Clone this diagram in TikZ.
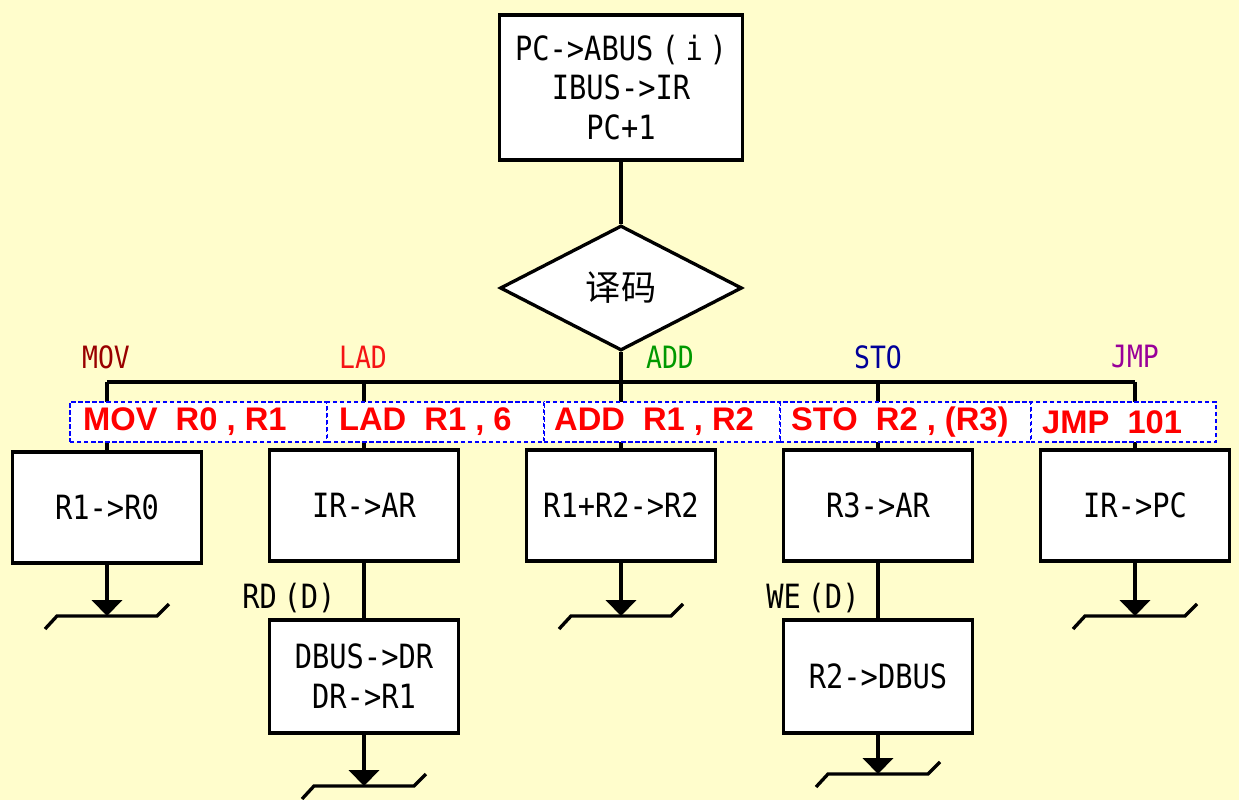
\documentclass[tikz,border=0pt]{standalone}
\usepackage{fontspec}
\setmainfont{Liberation Sans}
\newfontfamily\gothic[FakeStretch=0.86]{DejaVu Sans Mono}
\newfontfamily\cjkfont{Noto Sans CJK SC}
\newcommand\gbfont{\gothic\fontsize{19}{22.7}\selectfont}
\newcommand\gopfont{\gothic\fontsize{17.5}{20}\selectfont}
\usetikzlibrary{shapes.geometric,arrows.meta}
\definecolor{bg}{RGB}{255,253,204}
\definecolor{movc}{RGB}{153,0,0}
\definecolor{ladc}{RGB}{245,20,20}
\definecolor{addc}{RGB}{0,153,0}
\definecolor{stoc}{RGB}{0,0,153}
\definecolor{jmpc}{RGB}{153,0,153}
\tikzset{
  box/.style={draw, fill=white, line width=1.9pt, font=\gbfont, align=center, inner sep=0pt},
  bw/.style={minimum width=3.78cm, minimum height=2.22cm},
  dia/.style={draw, fill=white, diamond, minimum width=4.84cm, minimum height=2.5cm, inner sep=0pt, line width=1.9pt, font=\cjkfont\fontsize{20}{24}\selectfont},
  op/.style={font=\gopfont, inner sep=0pt},
  cmd/.style={draw=blue, dash pattern=on 2.5pt off 1.5pt, line width=0.6pt, fill=white, minimum height=0.8cm, inner sep=0pt},
  cmdtext/.style={text=red, font=\bfseries\fontsize{18.6}{20}\selectfont, anchor=west, inner sep=0pt},
  garr/.style={-{Triangle[width=17pt,length=9pt]}},
  gnd/.pic={\draw[line width=1.9pt] (-62,13) -- (-50,0) -- (50,0) -- (62,-12);}
}
\begin{document}
\begin{tikzpicture}[x=0.02cm,y=-0.02cm, line width=1.9pt]
\fill[bg] (0,0) rectangle (1239,800);
\useasboundingbox (0,0) rectangle (1239,800);

% main nodes
\node[box, minimum width=4.86cm, minimum height=2.9cm] (fetch) at (621,87.5)
  {PC->ABUS\hspace{.25em}(\hspace{.2em}i\hspace{.2em})\\IBUS->IR\\PC+1};
\node[dia] (dec) at (621,288) {译码};

\node[box, bw] (mov) at (107,507.5) {R1->R0};
\node[box, bw] (lad) at (364,505.5) {IR->AR};
\node[box, bw] (add) at (621,505.5) {R1+R2->R2};
\node[box, bw] (sto) at (878,505.5) {R3->AR};
\node[box, bw] (jmp) at (1135,505.5) {IR->PC};
\node[box, bw, minimum height=2.26cm] (lad2) at (364,676.5) {DBUS->DR\\DR->R1};
\node[box, bw, minimum height=2.26cm] (sto2) at (878,676.5) {R2->DBUS};

% bus and connectors
\coordinate (bl) at (107,382);
\coordinate (br) at (1135,382);
\draw (bl) -- (br);
\draw (fetch) -- (dec);
\draw (dec) -- (add);
\draw (bl) -- (mov);
\draw (lad.north |- bl) -- (lad);
\draw (sto.north |- bl) -- (sto);
\draw (br) -- (jmp);
\draw (lad) -- (lad2);
\draw (sto) -- (sto2);

% ground symbols
\coordinate (g1) at (107,616);
\coordinate (g2) at (621,616);
\coordinate (g3) at (1135,616);
\coordinate (g4) at (364,786);
\coordinate (g5) at (878,774);
\draw[garr] (mov) -- (g1); \pic at (g1) {gnd};
\draw[garr] (add) -- (g2); \pic at (g2) {gnd};
\draw[garr] (jmp) -- (g3); \pic at (g3) {gnd};
\draw[garr] (lad2) -- (g4); \pic at (g4) {gnd};
\draw[garr] (sto2) -- (g5); \pic at (g5) {gnd};

% opcode labels
\node[op, text=movc] (lmov) at (106,357) {MOV};
\node[op, text=ladc] (llad) at (363,357) {LAD};
\node[op, text=addc] (ladd) at (670,357) {ADD};
\node[op, text=stoc] (lsto) at (878,357) {STO};
\node[op, text=jmpc] (ljmp) at (1135,357) {JMP};

\node[op, font=\gbfont] (rd) at (289,598) {RD\hspace{.2em}(D)};
\node[op, font=\gbfont] (we) at (813,598) {WE\hspace{.2em}(D)};

% instruction boxes
\node[cmd, minimum width=5.14cm] (cmov) at (198.5,422) {};
\node[cmd, minimum width=4.34cm] (clad) at (435.5,422) {};
\node[cmd, minimum width=4.72cm] (cadd) at (662,422) {};
\node[cmd, minimum width=5.02cm] (csto) at (905.5,422) {};
\node[cmd, minimum width=3.70cm] (cjmp) at (1123.5,422) {};
\node[cmdtext] (tmov) at ([xshift=0.24cm]cmov.west) {MOV\ \ R0 , R1};
\node[cmdtext] (tlad) at ([xshift=0.22cm]clad.west) {LAD\ \ R1 , 6};
\node[cmdtext] (tadd) at ([xshift=0.18cm]cadd.west) {ADD\ \ R1 , R2};
\node[cmdtext] (tsto) at ([xshift=0.2cm]csto.west) {STO\ \ R2 , (R3)};
\node[cmdtext] (tjmp) at ([xshift=0.2cm]cjmp.west) {JMP\ \ 101};
\end{tikzpicture}
\end{document}
